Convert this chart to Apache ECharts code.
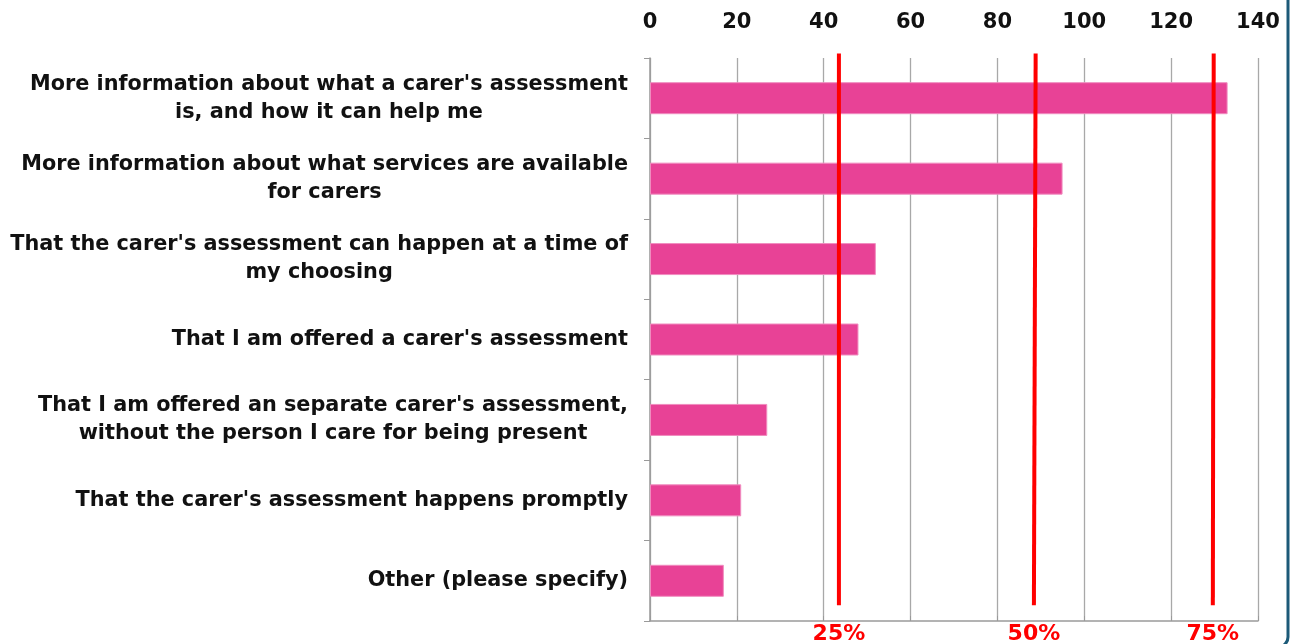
<!DOCTYPE html>
<html>
<head>
<meta charset="utf-8">
<script src="https://cdn.jsdelivr.net/npm/echarts@6/dist/echarts.min.js"></script>
<style>
html,body{margin:0;padding:0;background:#fff;}
#c{width:1291px;height:644px;}
</style>
</head>
<body>
<div id="c"></div>
<script>
const categories = [
  "More information about what a carer's assessment\nis, and how it can help me",
  "More information about what services are available\nfor carers",
  "That the carer's assessment can happen at a time of\nmy choosing",
  "That I am offered a carer's assessment",
  "That I am offered an separate carer's assessment,\nwithout the person I care for being present",
  "That the carer's assessment happens promptly",
  "Other (please specify)"
];
const values = [133, 95, 52, 48, 27, 21, 17];
const xTicks = { min: 0, max: 140, interval: 20 };
// quartile reference lines: label, x at top, x at bottom
const quartileLabels = ["25%", "50%", "75%"];
const quartileTop = [43.5, 88.8, 129.8];
const quartileBottom = [43.5, 88.4, 129.6];

const FONT = "DejaVu Sans";
const chart = echarts.init(document.getElementById('c'), null, { renderer: 'canvas' });

const lineSeries = quartileLabels.map((lab, i) => ({
  type: 'line',
  xAxisIndex: 0,
  yAxisIndex: 1,
  clip: false,
  symbol: 'none',
  silent: true,
  lineStyle: { color: '#ff0000', width: 4 },
  data: [[quartileTop[i], 1.008], [quartileBottom[i], 0.028]],
  z: 5
}));

const labelSeries = {
  type: 'scatter',
  xAxisIndex: 0,
  yAxisIndex: 1,
  clip: false,
  silent: true,
  symbol: 'circle',
  symbolSize: 2,
  itemStyle: { color: 'rgba(255,255,255,0)', opacity: 1 },
  data: quartileLabels.map((lab, i) => ({ name: lab, value: [quartileBottom[i], 0.028] })),
  label: {
    show: true, position: 'bottom', distance: 17,
    formatter: p => p.name,
    color: '#ff0000', opacity: 1, fontFamily: FONT, fontWeight: 'bold', fontSize: 22
  },
  z: 6
};

chart.setOption({
  animation: false,
  backgroundColor: '#ffffff',
  grid: { left: 650, right: 33, top: 58, bottom: 23 },
  xAxis: {
    type: 'value', position: 'top',
    min: xTicks.min, max: xTicks.max, interval: xTicks.interval,
    axisLine: { show: true, lineStyle: { color: '#9a9a9a', width: 1.5 } },
    axisTick: { show: true, length: 5, lineStyle: { color: '#9a9a9a' } },
    splitLine: { show: true, lineStyle: { color: '#a8a8a8', width: 1.3 } },
    axisLabel: { color: '#111', fontFamily: FONT, fontWeight: 'bold', fontSize: 21, margin: 25 }
  },
  yAxis: [{
    type: 'category', inverse: true, data: categories,
    axisLine: { show: true, lineStyle: { color: '#9a9a9a', width: 1.5 } },
    axisTick: { show: true, length: 6, lineStyle: { color: '#9a9a9a' } },
    splitLine: { show: false },
    axisLabel: {
      margin: 22, color: '#111', fontFamily: FONT, fontWeight: 'bold', fontSize: 20.8,
      lineHeight: 28, align: 'right',
      formatter: v => v.split('\n').map(s => '{c|' + s + '}').join('\n'),
      rich: { c: { align: 'center', fontFamily: FONT, fontWeight: 'bold', fontSize: 20.8, lineHeight: 28, color: '#111' } }
    }
  }, {
    type: 'value', min: 0, max: 1, show: false
  }],
  series: [{
    type: 'bar', data: values, yAxisIndex: 0,
    barWidth: 32,
    itemStyle: { color: '#e84296', borderColor: '#f08cbf', borderWidth: 1 },
    z: 2
  }].concat(lineSeries, [labelSeries]),
  graphic: [{
    type: 'rect', silent: true,
    shape: { x: -20, y: -20, width: 1308, height: 667, r: 10 },
    style: { fill: 'none', stroke: '#1c5a78', lineWidth: 3 }
  }]
});
</script>
</body>
</html>
